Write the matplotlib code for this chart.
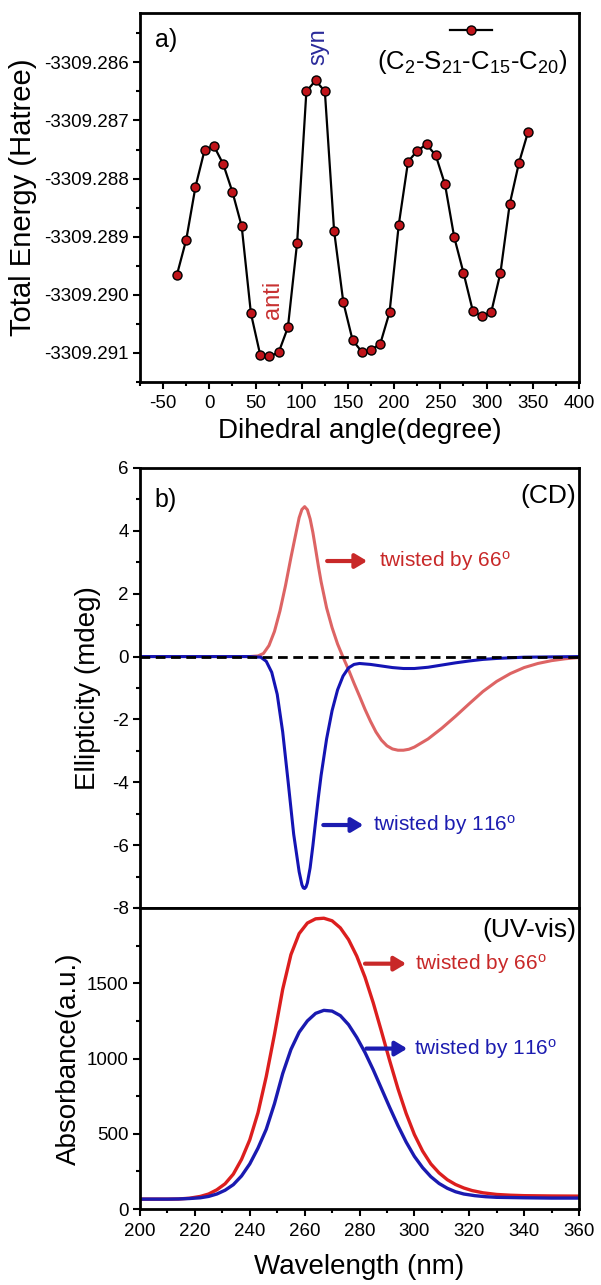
import numpy as np
import matplotlib
matplotlib.use('Agg')
from matplotlib import pyplot as plt
from matplotlib.ticker import FixedLocator, MultipleLocator, FormatStrFormatter

################################################################################
# Data
#
# a) dihedral scan____________________________________________________________

angle = [-35, -25, -15, -5, 5, 15, 25, 35, 45, 55, 65, 75, 85, 95, 105, 115,
         125, 135, 145, 155, 165, 175, 185, 195, 205, 215, 225, 235, 245, 255,
         265, 275, 285, 295, 305, 315, 325, 335, 345]
energy = [-3309.28965, -3309.28905, -3309.28814, -3309.28750, -3309.28744,
          -3309.28775, -3309.28823, -3309.28882, -3309.29032, -3309.29103,
          -3309.29106, -3309.29099, -3309.29056, -3309.28910, -3309.28650,
          -3309.28631, -3309.28650, -3309.28890, -3309.29013, -3309.29078,
          -3309.29098, -3309.29095, -3309.29084, -3309.29030, -3309.28879,
          -3309.28771, -3309.28752, -3309.28741, -3309.28760, -3309.28810,
          -3309.28901, -3309.28962, -3309.29027, -3309.29037, -3309.29030,
          -3309.28962, -3309.28844, -3309.28773, -3309.28719]
energy_ticks = [-3309.291, -3309.290, -3309.289, -3309.288, -3309.287, -3309.286]

# b) CD spectra_________________________________________________________________

cd66_wl  = [200, 210, 220, 230, 240, 243, 245, 247, 249, 251, 253, 255, 257,
            258, 259, 260, 261, 262, 263, 264, 265, 266, 268, 270, 272, 274,
            276, 278, 280, 282, 284, 286, 288, 290, 292, 294, 296, 298, 300,
            305, 310, 315, 320, 325, 330, 335, 340, 345, 350, 355, 360]
cd66_val = [0, 0, 0, 0, 0, 0.02, 0.1, 0.35, 0.8, 1.45, 2.25, 3.15, 4.0,
            4.42, 4.68, 4.77, 4.67, 4.38, 3.95, 3.42, 2.88, 2.38, 1.55, 0.92,
            0.4, -0.02, -0.42, -0.85, -1.26, -1.68, -2.06, -2.4, -2.66, -2.84,
            -2.94, -2.98, -2.98, -2.95, -2.88, -2.62, -2.28, -1.9, -1.5, -1.11,
            -0.79, -0.54, -0.35, -0.22, -0.13, -0.07, -0.03]

cd116_wl  = [200, 210, 220, 230, 240, 244, 246, 248, 250, 252, 254, 256, 258,
             259, 259.5, 260, 260.5, 261, 262, 263, 264, 265, 266, 268, 270,
             272, 274, 276, 278, 280, 284, 288, 292, 296, 300, 305, 310, 315,
             320, 325, 330, 335, 340, 350, 360]
cd116_val = [0, 0, 0, 0, 0, -0.02, -0.15, -0.5, -1.2, -2.4, -4.0, -5.65,
             -6.85, -7.26, -7.36, -7.38, -7.33, -7.2, -6.72, -6.02, -5.24,
             -4.48, -3.78, -2.62, -1.72, -1.06, -0.62, -0.36, -0.25, -0.22,
             -0.25, -0.3, -0.35, -0.38, -0.38, -0.34, -0.27, -0.2, -0.14,
             -0.09, -0.06, -0.04, -0.02, -0.01, 0]

# c) UV-vis spectra_____________________________________________________________

uv66_wl  = [200, 210, 214, 218, 222, 225, 228, 231, 234, 237, 240, 243, 246,
            249, 252, 255, 258, 261, 264, 267, 270, 273, 276, 279, 282, 285,
            288, 291, 294, 297, 300, 303, 306, 309, 312, 315, 318, 321, 325,
            330, 335, 340, 350, 360]
uv66_val = [66, 66, 67, 72, 84, 100, 128, 168, 232, 330, 460, 640, 880, 1160,
            1460, 1690, 1830, 1900, 1928, 1932, 1915, 1868, 1790, 1680, 1540,
            1370, 1180, 985, 800, 635, 495, 385, 300, 240, 195, 163, 140, 123,
            108, 97, 92, 89, 87, 86]

uv116_wl  = [200, 210, 214, 218, 222, 225, 228, 231, 234, 237, 240, 243, 246,
             249, 252, 255, 258, 261, 264, 267, 270, 273, 276, 279, 282, 285,
             288, 291, 294, 297, 300, 303, 306, 309, 312, 315, 318, 322, 326,
             330, 340, 350, 360]
uv116_val = [66, 66, 67, 70, 75, 84, 100, 125, 162, 220, 300, 405, 530, 700,
             900, 1060, 1175, 1250, 1300, 1320, 1315, 1285, 1225, 1140, 1040,
             925, 800, 675, 555, 445, 350, 275, 215, 170, 138, 115, 100, 89,
             82, 78, 75, 73, 73]

################################################################################
# Style
#
plt.rcParams['font.family'] = ['Liberation Sans', 'DejaVu Sans']
plt.rcParams['mathtext.fontset'] = 'custom'
plt.rcParams['mathtext.rm'] = 'Liberation Sans'
plt.rcParams['mathtext.it'] = 'Liberation Sans:italic'
plt.rcParams['axes.linewidth'] = 2.0
plt.rcParams['axes.unicode_minus'] = False

red_txt  = '#c82828'
blue_txt = '#1c1cb0'

fig = plt.figure(figsize=(6.01, 12.85), dpi=100)
ax_a = fig.add_axes([0.233, 0.7027, 0.7304, 0.2872])
ax_b = fig.add_axes([0.233, 0.2934, 0.7304, 0.3424])
ax_c = fig.add_axes([0.233, 0.0591, 0.7304, 0.2343])


def style_axes(ax):
    ax.tick_params(which='both', direction='out', top=False, right=False,
                   labelsize=13.5, width=1.5, pad=3)
    ax.tick_params(which='major', length=5)
    ax.tick_params(which='minor', length=3)


def arrow_label(ax, x0, x1, y, text, color, tx):
    ax.annotate('', xy=(x1, y), xytext=(x0, y),
                arrowprops=dict(arrowstyle='-|>,head_length=0.5,head_width=0.3',
                                lw=3, color=color, shrinkA=0, shrinkB=0,
                                mutation_scale=14))
    ax.text(tx, y, text, color=color, fontsize=15, ha='left', va='center')


################################################################################
# a) energy vs dihedral angle
#
ax_a.plot(angle, energy, '-o', color='k', lw=1.6, ms=6.5,
          mfc='#c0141a', mec='k', mew=1.0)
ax_a.set_xlim(-75, 400)
ax_a.set_ylim(-3309.2915, -3309.28515)
ax_a.xaxis.set_major_locator(MultipleLocator(50))
ax_a.xaxis.set_minor_locator(MultipleLocator(25))
ax_a.yaxis.set_major_locator(FixedLocator(energy_ticks))
ax_a.yaxis.set_minor_locator(MultipleLocator(0.0005))
ax_a.yaxis.set_major_formatter(FormatStrFormatter('%.3f'))
style_axes(ax_a)
ax_a.tick_params(axis='x', pad=4)
ax_a.set_xlabel('Dihedral angle(degree)', fontsize=20, labelpad=5)
ax_a.set_ylabel('Total Energy (Hatree)', fontsize=21, labelpad=5)

ax_a.text(0.034, 0.927, 'a)', transform=ax_a.transAxes, fontsize=18,
          ha='left', va='center')
ax_a.text(118.5, -3309.28573, 'syn', color='#2a2a9a', fontsize=17,
          rotation=90, ha='center', va='center')
ax_a.text(69, -3309.29008, 'anti', color='#c83232', fontsize=17,
          rotation=90, ha='center', va='center')

# legend, handle above the text
ax_a.plot([0.706, 0.802], [0.954, 0.954], '-', color='k', lw=1.6,
          transform=ax_a.transAxes, clip_on=False)
ax_a.plot([0.754], [0.954], 'o', ms=6.5, mfc='#c0141a', mec='k', mew=1.0,
          transform=ax_a.transAxes, clip_on=False)
ax_a.text(0.756, 0.868, r'(C$_2$-S$_{21}$-C$_{15}$-C$_{20}$)',
          transform=ax_a.transAxes, fontsize=18.5, ha='center', va='center')

################################################################################
# b) CD
#
ax_b.plot(cd66_wl, cd66_val, color='#dd6464', lw=2.2)
ax_b.plot(cd116_wl, cd116_val, color='#1414b4', lw=2.2)
ax_b.plot([200, 360], [0, 0], color='k', lw=2, ls=(0, (3.5, 2)))
ax_b.set_xlim(200, 360)
ax_b.set_ylim(-8, 6)
ax_b.yaxis.set_major_locator(MultipleLocator(2))
ax_b.yaxis.set_minor_locator(MultipleLocator(1))
style_axes(ax_b)
ax_b.tick_params(axis='x', which='both', bottom=False, labelbottom=False)
ax_b.set_ylabel('Ellipticity (mdeg)', fontsize=20, labelpad=8)

ax_b.text(0.032, 0.927, 'b)', transform=ax_b.transAxes, fontsize=18,
          ha='left', va='center')
ax_b.text(0.993, 0.936, '(CD)', transform=ax_b.transAxes, fontsize=19,
          ha='right', va='center')
arrow_label(ax_b, 268.2, 282.8, 3.04, r'twisted by 66$^{\mathregular{o}}$',
            red_txt, 287.0)
arrow_label(ax_b, 266.8, 281.4, -5.36, r'twisted by 116$^{\mathregular{o}}$',
            blue_txt, 285.0)

################################################################################
# c) UV-vis
#
ax_c.plot(uv66_wl, uv66_val, color='#dc1e1e', lw=2.4)
ax_c.plot(uv116_wl, uv116_val, color='#1a1ab0', lw=2.4)
ax_c.set_xlim(200, 360)
ax_c.set_ylim(0, 2000)
ax_c.xaxis.set_major_locator(MultipleLocator(20))
ax_c.xaxis.set_minor_locator(MultipleLocator(10))
ax_c.yaxis.set_major_locator(FixedLocator([0, 500, 1000, 1500]))
ax_c.yaxis.set_minor_locator(MultipleLocator(250))
style_axes(ax_c)
ax_c.tick_params(axis='x', pad=5)
ax_c.set_xlabel('Wavelength (nm)', fontsize=20, labelpad=10)
ax_c.set_ylabel('Absorbance(a.u.)', fontsize=20, labelpad=4)

ax_c.text(0.993, 0.927, '(UV-vis)', transform=ax_c.transAxes, fontsize=19,
          ha='right', va='center')
arrow_label(ax_c, 282.0, 297.0, 1630, r'twisted by 66$^{\mathregular{o}}$',
            red_txt, 300.4)
arrow_label(ax_c, 282.5, 297.4, 1066, r'twisted by 116$^{\mathregular{o}}$',
            blue_txt, 300.0)

fig.savefig('out.png', dpi=100)
